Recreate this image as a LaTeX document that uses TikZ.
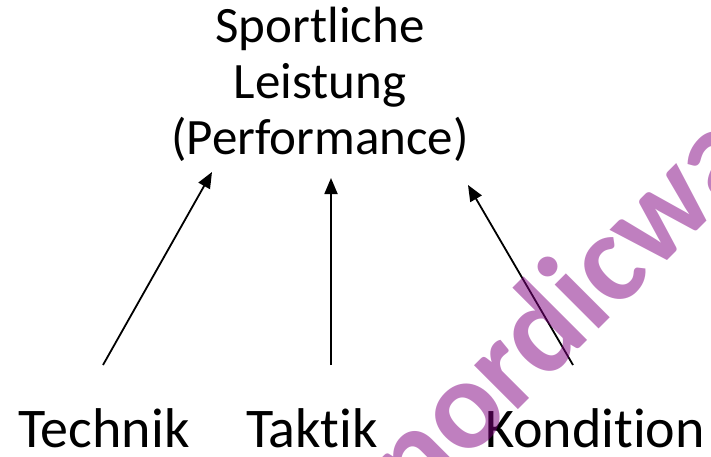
\documentclass[tikz,border=0pt]{standalone}
\usepackage{fontspec}
\setmainfont{Carlito}[RawFeature={-liga;-clig;-dlig;-calt}]
\usepackage{tikz}
\usetikzlibrary{calc,arrows.meta}
\definecolor{stampcol}{RGB}{128,0,128}

\begin{document}
\begin{tikzpicture}[
x=1pt, y=-1pt,
word/.style={inner sep=0pt, font=\fontsize{56}{60}\selectfont},
goal/.style={inner sep=0pt, align=center, font=\fontsize{51}{56}\selectfont},
stamp/.style={inner sep=0pt, text=stampcol, opacity=.5, font=\bfseries\fontsize{128}{128}\selectfont},
-{Triangle[length=16pt,width=13pt]}, line width=1.8pt
]
\useasboundingbox (0,0) rectangle (711,457);
\clip (0,0) rectangle (711,457);
\node[goal, anchor=base] (perf) at (320,155) {Sportliche\\Leistung\\(Performance)};
\node[word, anchor=base] (technik) at (104,447) {Technik};
\node[word, anchor=base] (taktik) at (312,447) {Taktik};
\node[word, anchor=base] (kondition) at (595,447) {Kondition};
% arrow ends
\coordinate (a1) at (103,365);
\coordinate (b1) at (212,172);
\coordinate (a2) at (331,365);
\coordinate (b2) at (331,178);
\coordinate (a3) at (573,365);
\coordinate (b3) at (468,185);
\draw (a1) -- (b1);
\draw (a2) -- (b2);
\draw (a3) -- (b3);
\node[stamp, rotate=45, anchor=base west] (wm) at (416,512) {nordicwa};
\end{tikzpicture}
\end{document}
